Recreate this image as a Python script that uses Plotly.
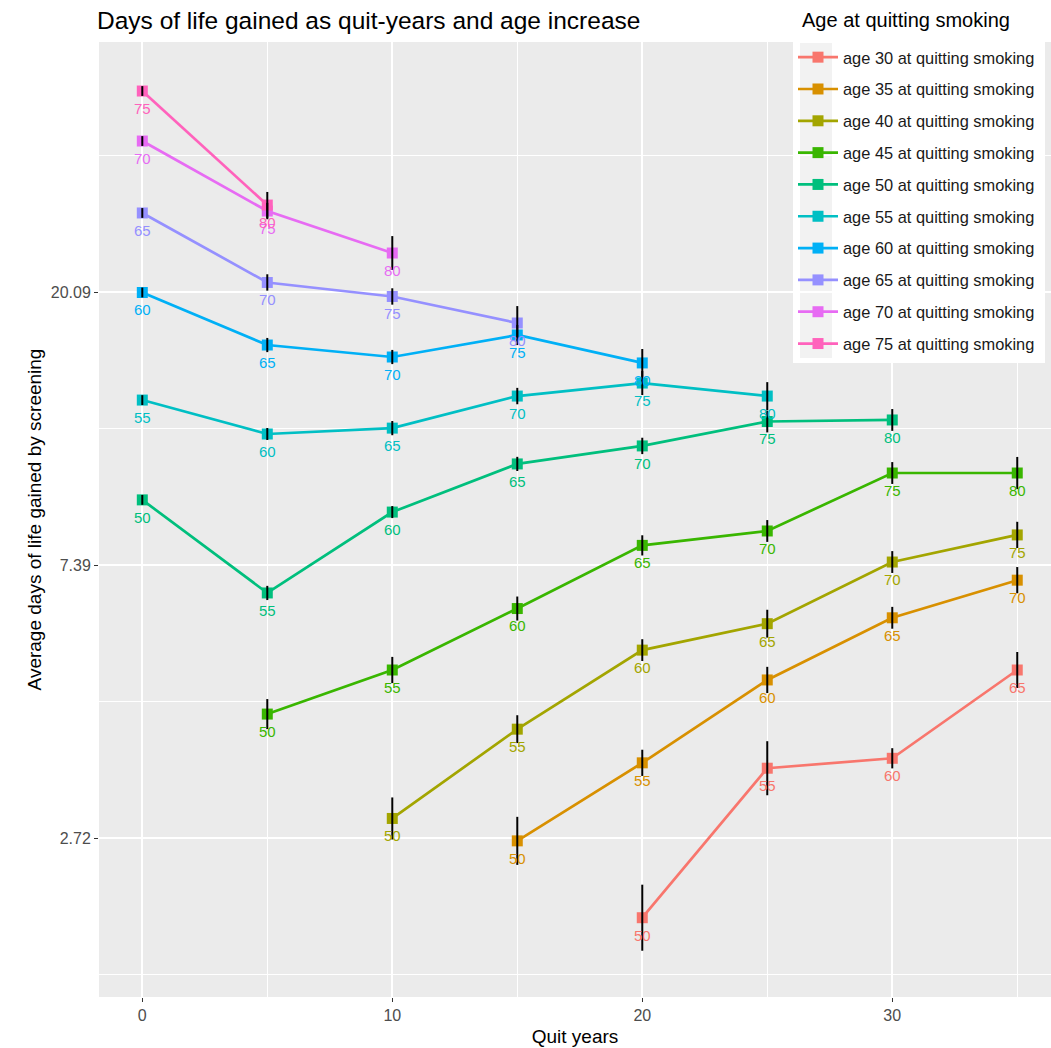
import math
import plotly.graph_objects as go

# ---- data ----
quit_ages = [30, 35, 40, 45, 50, 55, 60, 65, 70, 75]
colors = ["#F8766D", "#D89000", "#A3A500", "#39B600", "#00BF7D",
          "#00BFC4", "#00B0F6", "#9590FF", "#E76BF3", "#FF62BC"]

qy_30 = [20, 25, 30, 35]
val_30 = [2.03, 3.51, 3.64, 5.03]
err_30 = [0.121, 0.099, 0.037, 0.066]

qy_35 = [15, 20, 25, 30, 35]
val_35 = [2.69, 3.58, 4.85, 6.09, 6.99]
err_35 = [0.088, 0.048, 0.048, 0.040, 0.048]

qy_40 = [10, 15, 20, 25, 30, 35]
val_40 = [2.92, 4.05, 5.41, 5.96, 7.47, 8.25]
err_40 = [0.077, 0.051, 0.040, 0.051, 0.040, 0.048]

qy_45 = [5, 10, 15, 20, 25, 30, 35]
val_45 = [4.28, 5.03, 6.30, 7.94, 8.37, 10.35, 10.35]
err_45 = [0.055, 0.048, 0.044, 0.037, 0.040, 0.040, 0.059]

qy_50 = [0, 5, 10, 15, 20, 25, 30]
val_50 = [9.38, 6.67, 8.97, 10.70, 11.43, 12.50, 12.57]
err_50 = [0.018, 0.026, 0.022, 0.026, 0.030, 0.040, 0.040]

qy_55 = [0, 5, 10, 15, 20, 25]
val_55 = [13.52, 11.94, 12.20, 13.72, 14.39, 13.72]
err_55 = [0.018, 0.022, 0.026, 0.030, 0.044, 0.051]

qy_60 = [0, 5, 10, 15, 20]
val_60 = [20.05, 16.54, 15.83, 17.16, 15.49]
err_60 = [0.018, 0.026, 0.026, 0.037, 0.051]

qy_65 = [0, 5, 10, 15]
val_65 = [26.83, 20.80, 19.76, 17.93]
err_65 = [0.018, 0.030, 0.030, 0.062]

qy_70 = [0, 5, 10]
val_70 = [34.92, 27.02, 23.17]
err_70 = [0.018, 0.030, 0.062]

qy_75 = [0, 5]
val_75 = [41.94, 27.62]
err_75 = [0.018, 0.048]

y_tick_logs = [1, 2, 3]
y_tick_text = ["2.72", "7.39", "20.09"]
x_tick_vals = [0, 10, 20, 30]

series = [
    (qy_30, val_30, err_30), (qy_35, val_35, err_35), (qy_40, val_40, err_40),
    (qy_45, val_45, err_45), (qy_50, val_50, err_50), (qy_55, val_55, err_55),
    (qy_60, val_60, err_60), (qy_65, val_65, err_65), (qy_70, val_70, err_70),
    (qy_75, val_75, err_75),
]

FONT = "Liberation Sans, Arial, sans-serif"
W, H = 1051, 1048
ML, MR, MT, MB = 99, 0, 42, 51
PW, PH = W - ML - MR, H - MT - MB


def px(xp):
    return (xp - ML) / PW


def py(yp):
    return (H - MB - yp) / PH


fig = go.Figure()

# lines + points
for i, (a, (qy, v, e)) in enumerate(zip(quit_ages, series)):
    fig.add_trace(go.Scatter(
        x=qy, y=v, mode="lines+markers",
        name=f"age {a} at quitting smoking",
        legendgroup=f"g{a}",
        line=dict(color=colors[i], width=2.7),
        marker=dict(symbol="square", size=11, color=colors[i]),
    ))

# error bars (drawn above points)
for i, (a, (qy, v, e)) in enumerate(zip(quit_ages, series)):
    up = [val * (math.exp(s) - 1) for val, s in zip(v, e)]
    dn = [val * (1 - math.exp(-s)) for val, s in zip(v, e)]
    fig.add_trace(go.Scatter(
        x=qy, y=v, mode="markers", showlegend=False, hoverinfo="skip",
        marker=dict(size=1, color="rgba(0,0,0,0)"),
        error_y=dict(type="data", symmetric=False, array=up, arrayminus=dn,
                     color="black", thickness=2, width=0),
    ))

# text labels (current age)
for i, (a, (qy, v, e)) in enumerate(zip(quit_ages, series)):
    fig.add_trace(go.Scatter(
        x=qy, y=v, mode="markers+text", showlegend=False, hoverinfo="skip",
        marker=dict(size=17, color="rgba(0,0,0,0)"),
        text=[str(a + q) for q in qy], textposition="bottom center",
        textfont=dict(family=FONT, size=15, color=colors[i]),
    ))

minor_y = [math.exp(k) for k in (0.5, 1.5, 2.5, 3.5)]

fig.update_layout(
    width=W, height=H, autosize=False,
    margin=dict(l=ML, r=MR, t=MT, b=MB, autoexpand=False),
    paper_bgcolor="white", plot_bgcolor="#EBEBEB",
    font=dict(family=FONT, color="#1A1A1A"),
    title=dict(text="Days of life gained as quit-years and age increase",
               x=97 / W, xref="container", xanchor="left",
               y=1 - 20 / H, yref="container", yanchor="middle",
               font=dict(size=24.5, color="black", family=FONT)),
    xaxis=dict(
        range=[-1.732, 36.35], tickvals=x_tick_vals,
        showgrid=True, gridcolor="white", gridwidth=2,
        zeroline=False, showline=False,
        ticks="outside", ticklen=4, tickcolor="#333333", tickwidth=1,
        tickfont=dict(size=16, color="#4D4D4D", family=FONT),
        minor=dict(tickvals=[5, 15, 25, 35], showgrid=True,
                   gridcolor="white", gridwidth=1, ticks=""),
        title=dict(text="Quit years", font=dict(size=19, color="black", family=FONT),
                   standoff=6),
    ),
    yaxis=dict(
        type="log", range=[0.4176 / math.log(10), 3.9158 / math.log(10)],
        tickvals=[math.exp(k) for k in y_tick_logs], ticktext=y_tick_text,
        showgrid=True, gridcolor="white", gridwidth=2,
        zeroline=False, showline=False,
        ticks="outside", ticklen=4, tickcolor="#333333", tickwidth=1,
        tickfont=dict(size=16, color="#4D4D4D", family=FONT),
        minor=dict(tickvals=minor_y, showgrid=True,
                   gridcolor="white", gridwidth=1, ticks=""),
        title=dict(text="Average days of life gained by screening",
                   font=dict(size=19, color="black", family=FONT), standoff=4),
    ),
    legend=dict(
        x=px(793), xanchor="left",
        y=py(40), yanchor="top",
        bgcolor="rgba(0,0,0,0)", borderwidth=0,
        font=dict(size=16.4, color="#1A1A1A", family=FONT),
        tracegroupgap=7.5, itemwidth=40,
    ),
    shapes=[
        dict(type="rect", xref="paper", yref="paper", layer="between",
             x0=px(793), x1=px(1045), y0=py(363), y1=py(5),
             fillcolor="white", line=dict(width=0)),
        dict(type="rect", xref="paper", yref="paper", layer="between",
             x0=px(800), x1=px(832), y0=py(358), y1=py(43),
             fillcolor="#F2F2F2", line=dict(width=0)),
    ],
    annotations=[
        dict(text="Age at quitting smoking", xref="paper", yref="paper",
             x=px(800), y=py(20), xanchor="left", yanchor="middle",
             showarrow=False, font=dict(size=20, color="black", family=FONT)),
    ],
)

fig.write_html("out.html", config={"displayModeBar": False},
               post_script="document.body.style.margin='0';document.body.style.overflow='hidden';")
